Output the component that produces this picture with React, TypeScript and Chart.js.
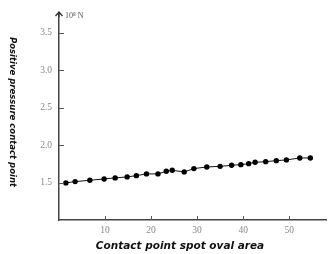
import React, { useEffect, useRef } from "react";
import { Chart, registerables } from "chart.js";

Chart.register(...registerables);

const areaValues = [1.5, 3.5, 6.7, 9.8, 12.2, 14.8, 16.8, 19.0, 21.5, 23.3, 24.6, 27.2, 29.3, 32.1, 35.0, 37.5, 39.5, 41.2, 42.6, 44.9, 47.2, 49.4, 52.3, 54.6];
const forceValues = [1.496, 1.513, 1.531, 1.549, 1.563, 1.576, 1.593, 1.616, 1.616, 1.651, 1.664, 1.643, 1.687, 1.709, 1.717, 1.731, 1.74, 1.753, 1.771, 1.78, 1.793, 1.803, 1.829, 1.829];
const xTickValues = [10, 20, 30, 40, 50];
const yTickValues = [1.5, 2.0, 2.5, 3.0, 3.5];
const xTitle = "Contact point spot oval area";
const yTitle = "Positive pressure contact point";
const unitLabel = "10\u2078 N";

const decorPlugin = {
  id: "decor",
  afterDraw(chart: any) {
    const ctx = chart.ctx;
    const area = chart.chartArea;
    const xs = chart.scales.x;
    const ys = chart.scales.y;
    ctx.save();
    ctx.strokeStyle = "#555";
    ctx.lineWidth = 1;
    xTickValues.forEach((v) => {
      const px = Math.round(xs.getPixelForValue(v)) + 0.5;
      ctx.beginPath();
      ctx.moveTo(px, area.bottom);
      ctx.lineTo(px, area.bottom - 4);
      ctx.stroke();
    });
    yTickValues.forEach((v) => {
      const py = Math.round(ys.getPixelForValue(v)) + 0.5;
      ctx.beginPath();
      ctx.moveTo(area.left, py);
      ctx.lineTo(area.left + 5, py);
      ctx.stroke();
    });
    ctx.strokeStyle = "#333";
    ctx.lineWidth = 1.3;
    ctx.beginPath();
    ctx.moveTo(area.left, area.top - 3);
    ctx.lineTo(area.left, area.top + 2);
    ctx.moveTo(area.left - 3.5, area.top + 1);
    ctx.lineTo(area.left, area.top - 3);
    ctx.lineTo(area.left + 3.5, area.top + 1);
    ctx.stroke();
    ctx.fillStyle = "#555";
    ctx.font = "8px 'Liberation Serif', serif";
    ctx.textAlign = "left";
    ctx.textBaseline = "middle";
    ctx.fillText(unitLabel, area.left + 6, area.top + 1);
    ctx.fillStyle = "#111";
    ctx.font = "italic bold 10.5px 'DejaVu Sans', sans-serif";
    ctx.textAlign = "center";
    ctx.textBaseline = "middle";
    ctx.fillText(xTitle, 180, 246);
    ctx.translate(12, 112);
    ctx.rotate(Math.PI / 2);
    ctx.font = "italic bold 8.5px 'DejaVu Sans', sans-serif";
    ctx.fillText(yTitle, 0, 0);
    ctx.restore();
  },
};

export default function App() {
  const canvasRef = useRef<HTMLCanvasElement | null>(null);
  useEffect(() => {
    document.body.style.margin = "0";
    const canvas = canvasRef.current;
    if (!canvas) return;
    const chart = new Chart(canvas, {
      type: "line",
      data: {
        datasets: [
          {
            data: areaValues.map((x, i) => ({ x, y: forceValues[i] })),
            borderColor: "#111",
            borderWidth: 1,
            backgroundColor: "#000",
            pointBackgroundColor: "#000",
            pointBorderColor: "#000",
            pointRadius: 2.7,
            pointBorderWidth: 0,
            tension: 0,
          },
        ],
      },
      options: {
        animation: false,
        responsive: false,
        maintainAspectRatio: false,
        layout: { padding: { left: 0, top: 15, right: 3, bottom: 0 } },
        plugins: { legend: { display: false }, tooltip: { enabled: false } },
        scales: {
          x: {
            type: "linear",
            min: 0,
            max: 58,
            afterFit: (s: any) => {
              s.height = 34;
            },
            afterBuildTicks: (s: any) => {
              s.ticks = xTickValues.map((v) => ({ value: v }));
            },
            grid: { display: true, drawOnChartArea: false, drawTicks: false },
            border: { display: true, color: "#444", width: 1.5 },
            ticks: {
              padding: 5,
              color: "#888",
              font: { family: "'Liberation Serif', serif", size: 9.5 },
              maxRotation: 0,
            },
          },
          y: {
            type: "linear",
            min: 1.0,
            max: 3.74,
            afterFit: (s: any) => {
              s.width = 59;
            },
            afterBuildTicks: (s: any) => {
              s.ticks = yTickValues.map((v) => ({ value: v }));
            },
            grid: { display: true, drawOnChartArea: false, drawTicks: false },
            border: { display: true, color: "#444", width: 1.5 },
            ticks: {
              padding: 7,
              color: "#888",
              font: { family: "'Liberation Serif', serif", size: 9.5 },
              callback: (v: any) => Number(v).toFixed(1),
            },
          },
        },
      },
      plugins: [decorPlugin],
    });
    return () => chart.destroy();
  }, []);
  return <canvas ref={canvasRef} width={330} height={254} style={{ display: "block" }} />;
}
